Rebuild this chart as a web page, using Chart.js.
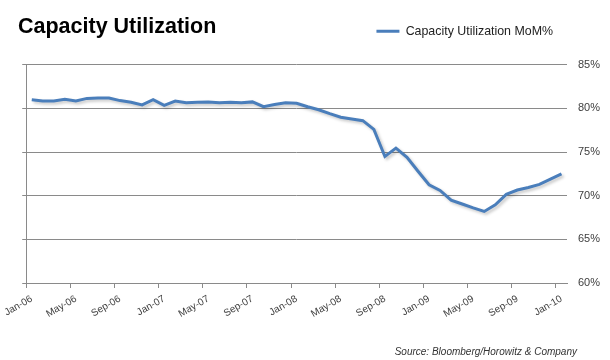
<!DOCTYPE html>
<html>
<head>
<meta charset="utf-8">
<script src="https://cdn.jsdelivr.net/npm/chart.js@4"></script>
<style>
  html, body { margin: 0; padding: 0; background: #fff; }
  #wrap { position: relative; width: 610px; height: 360px; }
  #source { position: absolute; right: 33px; top: 346px; font: italic 10px "Liberation Sans", Arial, sans-serif; color: #333; white-space: nowrap; }
</style>
</head>
<body>
<div id="wrap">
  <canvas id="c" width="610" height="360"></canvas>
  <div id="source">Source: Bloomberg/Horowitz &amp; Company</div>
</div>
<script>
const chartTitle = "Capacity Utilization";
const seriesName = "Capacity Utilization MoM%";
const months = [
  "Jan-06","Feb-06","Mar-06","Apr-06","May-06","Jun-06","Jul-06","Aug-06","Sep-06","Oct-06","Nov-06","Dec-06",
  "Jan-07","Feb-07","Mar-07","Apr-07","May-07","Jun-07","Jul-07","Aug-07","Sep-07","Oct-07","Nov-07","Dec-07",
  "Jan-08","Feb-08","Mar-08","Apr-08","May-08","Jun-08","Jul-08","Aug-08","Sep-08","Oct-08","Nov-08","Dec-08",
  "Jan-09","Feb-09","Mar-09","Apr-09","May-09","Jun-09","Jul-09","Aug-09","Sep-09","Oct-09","Nov-09","Dec-09",
  "Jan-10"
];
const utilization = [
  81.0, 80.85, 80.85, 81.05, 80.85, 81.15, 81.2, 81.2, 80.9, 80.7, 80.4, 81.0,
  80.35, 80.85, 80.65, 80.7, 80.75, 80.65, 80.7, 80.65, 80.75, 80.2, 80.45, 80.65,
  80.6, 80.2, 79.85, 79.4, 79.0, 78.8, 78.6, 77.6, 74.5, 75.45, 74.4, 72.8,
  71.25, 70.6, 69.5, 69.05, 68.6, 68.2, 68.95, 70.15, 70.65, 70.95, 71.3, 71.9,
  72.5
];
const yTicks = [60, 65, 70, 75, 80, 85];
const labelEvery = 4;

const gridGray = "#8a8a8a";
const textGray = "#404040";

const shadowPlugin = {
  id: "lineShadow",
  beforeDatasetDraw(chart) {
    const ctx = chart.ctx;
    ctx.save();
    ctx.shadowColor = "rgba(0,0,0,0.22)";
    ctx.shadowBlur = 3;
    ctx.shadowOffsetX = 2;
    ctx.shadowOffsetY = 2;
  },
  afterDatasetDraw(chart) {
    chart.ctx.restore();
  }
};

new Chart(document.getElementById("c"), {
  type: "line",
  data: {
    labels: months,
    datasets: [{
      label: seriesName,
      data: utilization,
      borderColor: "#4A7EBB",
      backgroundColor: "#4A7EBB",
      borderWidth: 3,
      pointRadius: 0,
      pointHoverRadius: 0,
      tension: 0,
      yAxisID: "y"
    }]
  },
  options: {
    responsive: false,
    animation: false,
    devicePixelRatio: 1,
    layout: { padding: { left: 18, right: 10, top: 11, bottom: 0 } },
    plugins: {
      tooltip: { enabled: false },
      legend: {
        display: true,
        position: "top",
        align: "end",
        fullSize: false,
        labels: {
          boxWidth: 23,
          boxHeight: 3,
          padding: 14,
          color: "#222",
          font: { family: "'Liberation Sans', Arial, sans-serif", size: 12.4 },
          generateLabels(chart) {
            const items = Chart.defaults.plugins.legend.labels.generateLabels(chart);
            items.forEach(it => { it.lineWidth = 0; it.fillStyle = "#4A7EBB"; });
            return items;
          }
        }
      },
      title: {
        display: true,
        text: chartTitle,
        align: "start",
        position: "top",
        weight: 500,
        color: "#000",
        font: { family: "'Liberation Sans', Arial, sans-serif", size: 21.5, weight: "bold", lineHeight: 1.2 },
        padding: { top: -33, bottom: 24.6 }
      }
    },
    scales: {
      x: {
        type: "category",
        offset: true,
        grid: {
          offset: true,
          drawOnChartArea: false,
          drawTicks: true,
          tickLength: 5,
          color: (ctx) => (ctx.index % labelEvery === 0 && ctx.index < months.length) ? gridGray : "rgba(0,0,0,0)"
        },
        border: { display: true, color: gridGray, width: 1 },
        ticks: {
          autoSkip: false,
          minRotation: 30,
          maxRotation: 30,
          padding: 5,
          color: textGray,
          font: { family: "'Liberation Sans', Arial, sans-serif", size: 10 },
          callback: (val, i) => (i % labelEvery === 0 ? months[i] : "")
        },
        afterFit: (scale) => { scale.height = 77; }
      },
      y: {
        type: "linear",
        position: "right",
        min: 60,
        max: 85,
        afterBuildTicks: (scale) => { scale.ticks = yTicks.map(v => ({ value: v })); },
        grid: { color: gridGray, lineWidth: 1, drawTicks: false },
        border: { display: false },
        ticks: {
          padding: 11,
          color: textGray,
          font: { family: "'Liberation Sans', Arial, sans-serif", size: 11 },
          callback: (v) => v + "%"
        },
        afterFit: (scale) => { scale.width = 33; }
      },
      yl: {
        type: "linear",
        position: "left",
        min: 60,
        max: 85,
        afterBuildTicks: (scale) => { scale.ticks = yTicks.map(v => ({ value: v })); },
        grid: { drawOnChartArea: false, drawTicks: true, tickLength: 4, color: gridGray },
        border: { display: true, color: gridGray, width: 1 },
        ticks: { display: false },
        afterFit: (scale) => { scale.width = 7; }
      }
    }
  },
  plugins: [shadowPlugin]
});
</script>
</body>
</html>
